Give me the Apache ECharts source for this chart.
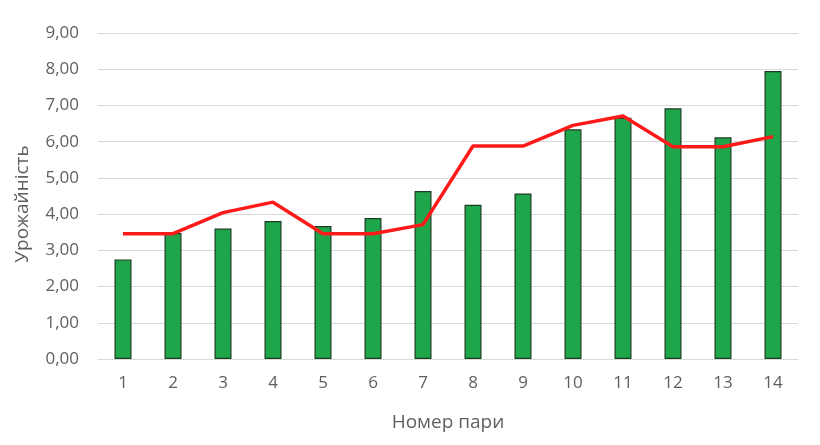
<!DOCTYPE html>
<html>
<head>
<meta charset="utf-8">
<script src="https://cdn.jsdelivr.net/npm/echarts@6/dist/echarts.min.js"></script>
<style>html,body{margin:0;padding:0;background:#fff;}#c{width:820px;height:445px;}</style>
</head>
<body>
<div id="c"></div>
<script>
var categories = ['1','2','3','4','5','6','7','8','9','10','11','12','13','14'];
var barValues = [2.75, 3.48, 3.60, 3.81, 3.67, 3.89, 4.64, 4.26, 4.57, 6.34, 6.66, 6.92, 6.12, 7.95];
var lineValues = [3.46, 3.46, 4.04, 4.33, 3.46, 3.46, 3.71, 5.88, 5.88, 6.45, 6.71, 5.86, 5.86, 6.14];
var yTicks = {min: 0, max: 9, interval: 1};
var xName = 'Номер пари';
var yName = 'Урожайність';

var chart = echarts.init(document.getElementById('c'));
var font = 'Open Sans, Noto Sans, sans-serif';
chart.setOption({
  animation: false,
  grid: {left: 98, right: 22, top: 33, bottom: 86},
  xAxis: {
    type: 'category',
    data: categories,
    name: xName,
    nameLocation: 'middle',
    nameGap: 54,
    nameTextStyle: {color: '#5f5f5f', fontSize: 19, fontFamily: font},
    axisLine: {show: true, lineStyle: {color: '#d9d9d9', width: 1}},
    axisTick: {show: false},
    axisLabel: {color: '#5f5f5f', fontSize: 17, fontFamily: font, margin: 16}
  },
  yAxis: {
    type: 'value',
    min: yTicks.min, max: yTicks.max, interval: yTicks.interval,
    name: yName,
    nameLocation: 'middle',
    nameGap: 66,
    nameTextStyle: {color: '#5f5f5f', fontSize: 19, fontFamily: font, padding: [0, 16, 0, 0]},
    axisLine: {show: false},
    axisTick: {show: false},
    splitLine: {lineStyle: {color: '#d9d9d9', width: 1}},
    axisLabel: {
      color: '#5f5f5f', fontSize: 17, fontFamily: font, margin: 19,
      formatter: function (v) { return v.toFixed(2).replace('.', ','); }
    }
  },
  series: [
    {
      type: 'bar',
      data: barValues,
      barWidth: 17,
      itemStyle: {color: '#20a64a', borderColor: '#1b3b22', borderWidth: 1.2}
    },
    {
      type: 'line',
      data: lineValues,
      symbol: 'none',
      lineStyle: {color: '#ff1a1a', width: 3.5},
      z: 5
    }
  ]
});
</script>
</body>
</html>
